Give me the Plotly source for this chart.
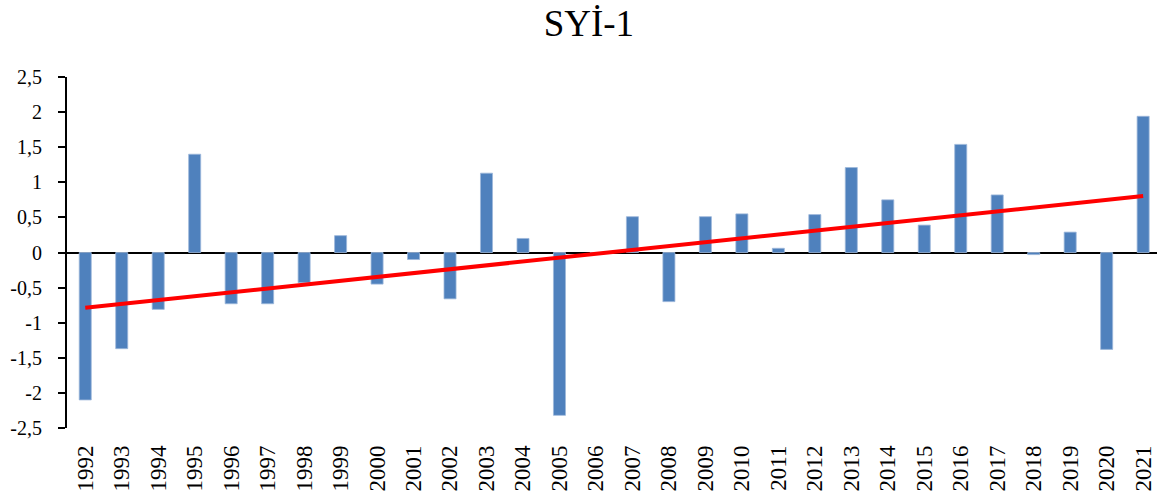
import numpy as np
import plotly.graph_objects as go

years = [str(y) for y in range(1992, 2022)]
values = [-2.10, -1.37, -0.81, 1.40, -0.73, -0.73, -0.43, 0.24, -0.45, -0.10,
          -0.66, 1.13, 0.20, -2.32, 0.00, 0.51, -0.70, 0.51, 0.55, 0.06,
          0.54, 1.21, 0.75, 0.39, 1.54, 0.82, -0.03, 0.29, -1.38, 1.94]
ytick_vals = [2.5, 2, 1.5, 1, 0.5, 0, -0.5, -1, -1.5, -2, -2.5]
ytick_text = ["2,5", "2", "1,5", "1", "0,5", "0", "-0,5", "-1", "-1,5", "-2", "-2,5"]

# linear trend fitted from the data
xi = np.arange(len(values))
slope, intercept = np.polyfit(xi, values, 1)
trend = slope * xi + intercept

fig = go.Figure()
fig.add_trace(go.Bar(x=years, y=values, marker=dict(color="#4F81BD",
                     line=dict(color="#9DB7DA", width=0.8)), showlegend=False))
fig.add_trace(go.Scatter(x=years, y=trend, mode="lines",
                         line=dict(color="#FF0000", width=4), showlegend=False))

fig.update_layout(
    width=1157, height=492,
    margin=dict(l=67, r=0, t=77, b=64),
    paper_bgcolor="white", plot_bgcolor="white",
    bargap=0.67,
    font=dict(family="Liberation Serif", color="black"),
    title=dict(text="SYİ-1", x=0.509, xanchor="center", y=0.953, yanchor="middle",
               font=dict(family="Liberation Serif", size=37, color="black")),
    xaxis=dict(type="category", range=[-0.5, 29.38], tickangle=-90, showgrid=False,
               showline=False, ticks="", automargin=False, ticklabelstandoff=12,
               tickfont=dict(size=23, family="Liberation Serif")),
    yaxis=dict(range=[-2.5, 2.5], tickvals=ytick_vals, ticktext=ytick_text,
               showgrid=False, showline=True, linecolor="black", linewidth=2,
               ticks="outside", ticklen=7, tickwidth=2, tickcolor="black",
               zeroline=True, zerolinecolor="black", zerolinewidth=2,
               automargin=False, ticklabelstandoff=12,
               tickfont=dict(size=20, family="Liberation Serif")),
)

fig.write_html("out.html", config={"displayModeBar": False},
               post_script="document.body.style.margin='0';")
